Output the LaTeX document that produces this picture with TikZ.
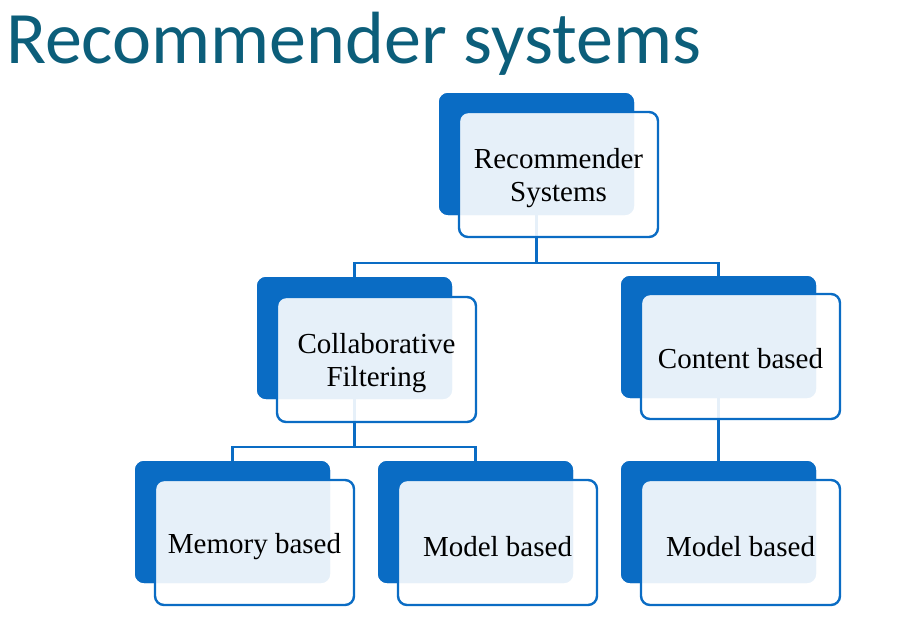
\documentclass[tikz,border=0pt]{standalone}
\usepackage{fontspec}
\setmainfont{Liberation Serif}
\newfontfamily\titlefont{Carlito}
\definecolor{dkblue}{RGB}{10,108,196}
\definecolor{titleteal}{RGB}{12,94,122}
\begin{document}
\begin{tikzpicture}[x=1pt,y=-1pt,
  darkbox/.style={fill=dkblue,rounded corners=9pt,minimum width=195pt,minimum height=122pt,anchor=north west,inner sep=0pt,outer sep=0pt},
  frontbox/.style={draw=dkblue,line width=2.4pt,fill=white,fill opacity=0.9,rounded corners=9pt,minimum width=199pt,minimum height=125pt,anchor=north west,inner sep=0pt,outer sep=0pt},
  lbl/.style={inner sep=0pt,align=center,font=\fontsize{29}{33}\selectfont},
  conn/.style={draw=dkblue,line width=2.4pt}]
\useasboundingbox (0,0) rectangle (897,624);
\node[anchor=base west,inner sep=0pt,text=titleteal,font=\titlefont\fontsize{74}{74}\selectfont] (title) at (6,63) {Recommender systems};
% dark boxes
\node[darkbox] (d1) at (439,93) {};
\node[darkbox] (d2) at (257,277) {};
\node[darkbox] (d3) at (621,276) {};
\node[darkbox] (d4) at (135,461) {};
\node[darkbox] (d5) at (378,461) {};
\node[darkbox] (d6) at (621,461) {};
% connectors
\coordinate (j1) at (d1.south |- 0,263);
\coordinate (j2) at (d2.south |- 0,447);
\draw[conn] (d1.south) -- (j1) -| (d2.north);
\draw[conn] (j1) -| (d3.north);
\draw[conn] (d2.south) -- (j2) -| (d4.north);
\draw[conn] (j2) -| (d5.north);
\draw[conn] (d3.south) -- (d6.north);
% redraw dark boxes over connectors
\node[darkbox] at (d1.north west) {};
\node[darkbox] at (d2.north west) {};
\node[darkbox] at (d3.north west) {};
\node[darkbox] at (d4.north west) {};
\node[darkbox] at (d5.north west) {};
\node[darkbox] at (d6.north west) {};
% front boxes
\node[frontbox] (f1) at (459,112) {};
\node[frontbox] (f2) at (277,297) {};
\node[frontbox] (f3) at (641,294) {};
\node[frontbox] (f4) at (155,480) {};
\node[frontbox] (f5) at (398,480) {};
\node[frontbox] (f6) at (641,480) {};
% labels
\node[lbl] (t1) at ([yshift=-4pt]f1.center) {Recommender\\Systems};
\node[lbl] (t2) at ([yshift=-4pt]f2.center) {Collaborative\\Filtering};
\node[lbl] (t3) at ([yshift=-2pt]f3.center) {Content based};
\node[lbl] (t4) at ([yshift=-4pt]f4.center) {Memory based};
\node[lbl] (t5) at ([yshift=-4pt]f5.center) {Model based};
\node[lbl] (t6) at ([yshift=-4pt]f6.center) {Model based};
\end{tikzpicture}
\end{document}
